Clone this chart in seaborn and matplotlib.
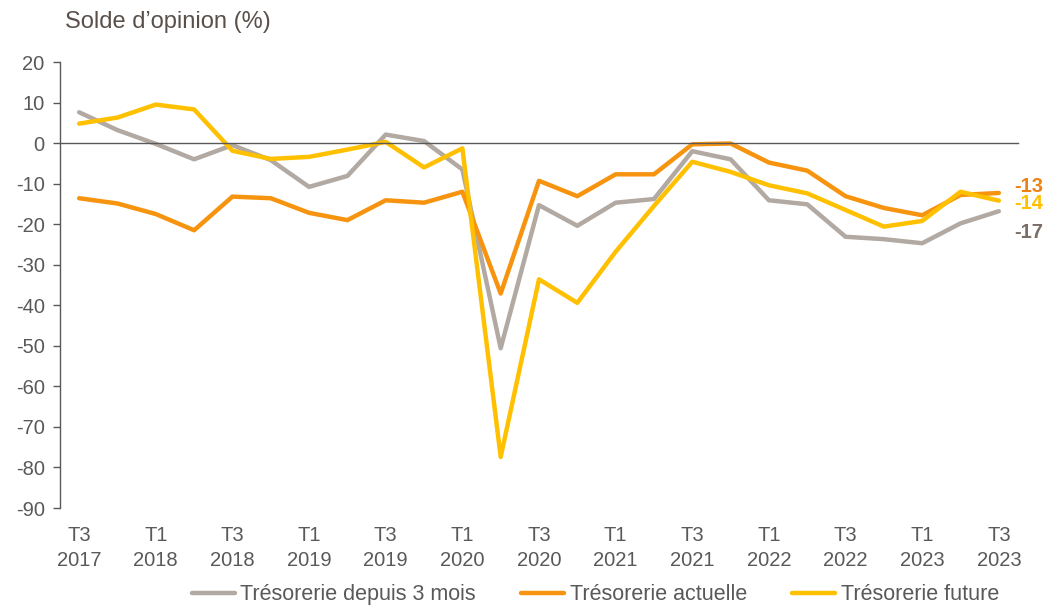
import numpy as np
import pandas as pd
import matplotlib
matplotlib.use("Agg")
import matplotlib.pyplot as plt
import seaborn as sns

# quarterly data, T3 2017 -> T3 2023
quarters = ["T3 2017", "T4 2017", "T1 2018", "T2 2018", "T3 2018", "T4 2018",
            "T1 2019", "T2 2019", "T3 2019", "T4 2019", "T1 2020", "T2 2020",
            "T3 2020", "T4 2020", "T1 2021", "T2 2021", "T3 2021", "T4 2021",
            "T1 2022", "T2 2022", "T3 2022", "T4 2022", "T1 2023", "T2 2023",
            "T3 2023"]

treso_3mois = [7.6, 3.2, -0.2, -4.0, -0.5, -4.2, -10.8, -8.1, 2.1, 0.5, -6.5, -50.6,
               -15.3, -20.4, -14.7, -13.8, -2.0, -4.0, -14.1, -15.1, -23.1, -23.7,
               -24.7, -19.8, -16.8]
treso_actuelle = [-13.6, -14.9, -17.5, -21.5, -13.2, -13.6, -17.2, -19.0, -14.1, -14.7,
                  -12.0, -37.1, -9.3, -13.1, -7.7, -7.7, -0.3, -0.1, -4.8, -6.8,
                  -13.1, -16.0, -17.8, -12.8, -12.3]
treso_future = [4.8, 6.3, 9.5, 8.3, -1.9, -3.9, -3.4, -1.6, 0.3, -6.0, -1.3, -77.4,
                -33.6, -39.4, -26.8, -15.5, -4.6, -7.1, -10.4, -12.4, -16.5, -20.6,
                -19.2, -12.0, -14.2]

series_names = ["Trésorerie depuis 3 mois", "Trésorerie actuelle", "Trésorerie future"]
series_colors = ["#B1A9A2", "#F7940F", "#FFC000"]
end_labels = ["-17", "-13", "-14"]
end_label_colors = ["#7A6E67", "#EE8215", "#FFC000"]
end_label_offsets = [-15, 5, -2]  # points, to keep labels apart

tick_labels = [q.replace(" ", "\n") if i % 2 == 0 else "" for i, q in enumerate(quarters)]

df = pd.DataFrame({
    "idx": np.arange(len(quarters)),
    series_names[0]: treso_3mois,
    series_names[1]: treso_actuelle,
    series_names[2]: treso_future,
})
long = df.melt(id_vars="idx", var_name="serie", value_name="solde")

sns.set_style("white")
plt.rcParams["font.family"] = ["Liberation Sans", "DejaVu Sans"]
plt.rcParams["axes.unicode_minus"] = False
text_color = "#595959"
fs = 14.5

fig = plt.figure(figsize=(10.5, 6.07), dpi=100)
ax = fig.add_axes([60 / 1050, 99 / 607, 958 / 1050, 446 / 607])

sns.lineplot(data=long, x="idx", y="solde", hue="serie", palette=series_colors,
             hue_order=series_names, linewidth=3.2, ax=ax, legend=False)

n = len(quarters)
ax.set_xlim(-0.5, n - 0.5)
ax.set_ylim(-90, 20)
ax.set_yticks(np.arange(-90, 21, 10))
ax.set_xlabel("")
ax.set_ylabel("")

for s in ["top", "right"]:
    ax.spines[s].set_visible(False)
ax.spines["left"].set_color(text_color)
ax.spines["left"].set_linewidth(1.0)
ax.spines["bottom"].set_position(("data", 0))
ax.spines["bottom"].set_color(text_color)
ax.spines["bottom"].set_linewidth(1.0)

# category boundaries as ticks on the zero line
ax.set_xticks(np.arange(-0.5, n, 1.0))
ax.tick_params(axis="x", direction="out", length=5, width=1, color=text_color,
               labelbottom=False)
ax.tick_params(axis="y", direction="out", length=5, width=1, color=text_color,
               labelsize=fs, labelcolor=text_color, left=True, pad=6)

# category labels at the bottom of the plot
sec = ax.secondary_xaxis("bottom")
sec.set_xticks(np.arange(n))
sec.set_xticklabels(tick_labels)
sec.spines["bottom"].set_visible(False)
sec.tick_params(axis="x", length=0, pad=13, labelsize=fs, labelcolor=text_color)
for lbl in sec.get_xticklabels():
    lbl.set_linespacing(1.4)

fig.text(65 / 1050, 1 - 22 / 607, "Solde d\u2019opinion (%)", fontsize=17,
         color="#5A504B", va="center", ha="left")

# end-of-series labels
last_vals = [treso_3mois[-1], treso_actuelle[-1], treso_future[-1]]
for val, lab, col, off in zip(last_vals, end_labels, end_label_colors, end_label_offsets):
    ax.annotate(lab, xy=(n - 1, val), xytext=(11, off), textcoords="offset points",
                fontsize=fs, fontweight="bold", color=col, va="center", ha="left",
                annotation_clip=False)

handles = [plt.Line2D([], [], color=c, linewidth=3.2) for c in series_colors]
fig.legend(handles, series_names, loc="center", bbox_to_anchor=(0.567, 0.02),
           ncol=3, frameon=False, fontsize=15.5, handlelength=2.0,
           handletextpad=0.25, columnspacing=2.1, labelcolor=text_color,
           borderpad=0.1)

fig.savefig("out.png", dpi=100)
